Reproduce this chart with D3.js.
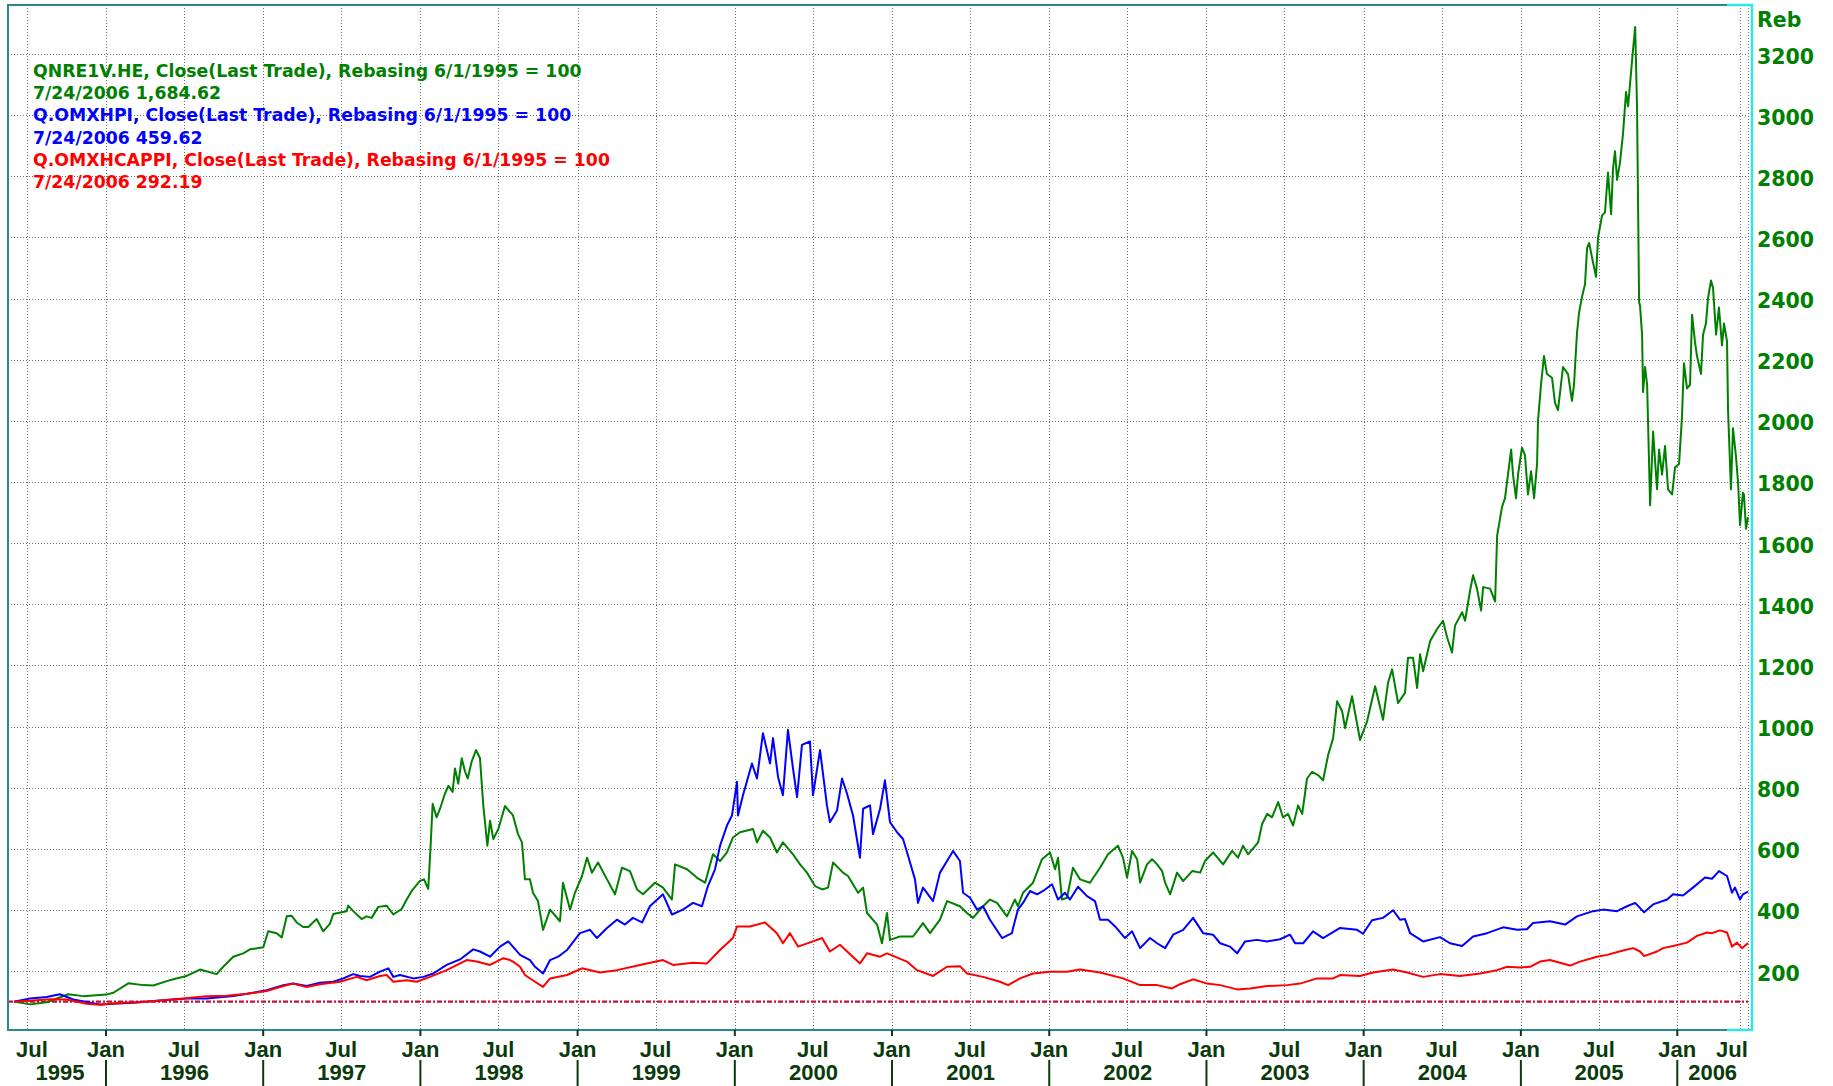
<!DOCTYPE html>
<html><head><meta charset="utf-8">
<script src="https://cdnjs.cloudflare.com/ajax/libs/d3/7.8.5/d3.min.js"></script>
<style>
html,body{margin:0;padding:0;background:#fff;}
svg{display:block;}
</style></head>
<body>
<svg id="chart" width="1833" height="1086"></svg>
<script>
// ---------- DATA (dates as decimal years, values rebased to 100 on 6/1/1995) ----------
const seriesNames = [
  "QNRE1V.HE, Close(Last Trade), Rebasing 6/1/1995 = 100",
  "Q.OMXHPI, Close(Last Trade), Rebasing 6/1/1995 = 100",
  "Q.OMXHCAPPI, Close(Last Trade), Rebasing 6/1/1995 = 100"
];
const lastLabels = ["7/24/2006 1,684.62", "7/24/2006 459.62", "7/24/2006 292.19"];
const seriesColors = ["#008000", "#0000ff", "#ff0000"];

const qnre1v = [
[1995.415,100],[1995.517,91],[1995.623,98],[1995.760,124],[1995.856,118],[1996.000,123],[1996.047,129],
[1996.142,160],[1996.237,154],[1996.301,153],[1996.386,167],[1996.428,173],[1996.513,184],[1996.598,205],
[1996.704,190],[1996.746,214],[1996.810,247],[1996.873,258],[1996.916,271],[1997.001,278],[1997.032,330],
[1997.086,324],[1997.118,310],[1997.150,379],[1997.181,381],[1997.213,359],[1997.255,344],[1997.287,344],
[1997.340,370],[1997.382,330],[1997.425,355],[1997.446,387],[1997.531,396],[1997.541,414],[1997.573,396],
[1997.626,370],[1997.658,379],[1997.690,374],[1997.732,410],[1997.785,414],[1997.828,385],[1997.881,403],
[1997.913,434],[1997.945,462],[1997.997,495],[1998.023,500],[1998.050,469],[1998.065,610],[1998.078,747],
[1998.103,703],[1998.125,731],[1998.156,780],[1998.178,806],[1998.205,786],[1998.220,863],[1998.241,813],
[1998.263,896],[1998.284,852],[1998.301,830],[1998.326,885],[1998.354,923],[1998.379,896],[1998.400,742],
[1998.426,610],[1998.443,692],[1998.464,632],[1998.496,665],[1998.538,740],[1998.589,709],[1998.621,648],
[1998.646,621],[1998.665,500],[1998.697,500],[1998.716,456],[1998.748,429],[1998.780,335],[1998.825,401],
[1998.888,363],[1998.907,489],[1998.952,401],[1998.983,456],[1999.028,511],[1999.060,571],[1999.091,522],
[1999.130,555],[1999.187,500],[1999.238,451],[1999.282,538],[1999.333,527],[1999.378,467],[1999.416,451],
[1999.492,489],[1999.543,473],[1999.600,434],[1999.620,549],[1999.696,533],[1999.760,505],[1999.811,489],
[1999.861,582],[1999.906,560],[1999.950,588],[1999.988,637],[2000.033,654],[2000.116,665],[2000.141,621],
[2000.179,659],[2000.224,637],[2000.268,588],[2000.306,621],[2000.370,582],[2000.415,549],[2000.459,522],
[2000.510,478],[2000.555,467],[2000.593,473],[2000.625,555],[2000.688,522],[2000.720,511],[2000.784,456],
[2000.816,473],[2000.841,390],[2000.905,352],[2000.936,291],[2000.968,390],[2000.987,302],[2001.051,313],
[2001.134,313],[2001.197,357],[2001.242,324],[2001.305,368],[2001.350,429],[2001.432,412],[2001.477,390],
[2001.515,374],[2001.579,412],[2001.623,434],[2001.668,423],[2001.731,379],[2001.782,434],[2001.801,412],
[2001.833,456],[2001.897,489],[2001.954,566],[2002.005,588],[2002.037,533],[2002.056,571],[2002.081,434],
[2002.113,440],[2002.151,538],[2002.196,500],[2002.259,489],[2002.323,538],[2002.374,582],[2002.437,610],
[2002.469,571],[2002.495,506],[2002.527,593],[2002.559,566],[2002.578,489],[2002.622,549],[2002.654,566],
[2002.686,549],[2002.718,527],[2002.737,489],[2002.769,451],[2002.813,522],[2002.852,494],[2002.909,527],
[2002.960,522],[2002.991,560],[2003.042,588],[2003.106,549],[2003.163,593],[2003.201,571],[2003.233,610],
[2003.265,582],[2003.329,621],[2003.354,681],[2003.386,714],[2003.417,703],[2003.456,753],[2003.487,703],
[2003.519,714],[2003.551,676],[2003.583,742],[2003.609,714],[2003.640,830],[2003.672,852],[2003.710,841],
[2003.742,824],[2003.774,907],[2003.806,962],[2003.831,1083],[2003.863,1050],[2003.882,995],[2003.926,1099],
[2003.977,956],[2004.022,1017],[2004.073,1132],[2004.123,1022],[2004.155,1143],[2004.181,1187],[2004.219,1077],
[2004.263,1110],[2004.282,1225],[2004.314,1225],[2004.340,1126],[2004.359,1236],[2004.378,1181],[2004.423,1280],
[2004.467,1319],[2004.505,1346],[2004.531,1291],[2004.562,1242],[2004.581,1330],[2004.626,1374],[2004.645,1346],
[2004.677,1445],[2004.696,1495],[2004.721,1451],[2004.747,1379],[2004.760,1456],[2004.804,1451],[2004.836,1409],
[2004.849,1624],[2004.880,1718],[2004.899,1747],[2004.938,1906],[2004.950,1824],[2004.969,1747],[2004.982,1824],
[2005.007,1912],[2005.026,1888],[2005.045,1759],[2005.065,1835],[2005.084,1747],[2005.103,1859],[2005.109,2000],
[2005.128,2118],[2005.147,2212],[2005.166,2153],[2005.198,2141],[2005.217,2059],[2005.236,2035],[2005.268,2176],
[2005.300,2153],[2005.325,2065],[2005.338,2118],[2005.357,2288],[2005.370,2353],[2005.389,2406],[2005.408,2447],
[2005.421,2565],[2005.434,2582],[2005.459,2518],[2005.478,2471],[2005.491,2600],[2005.516,2671],[2005.535,2682],
[2005.554,2812],[2005.574,2676],[2005.586,2824],[2005.599,2882],[2005.612,2788],[2005.631,2847],[2005.650,2941],
[2005.669,3076],[2005.682,3029],[2005.701,3141],[2005.714,3218],[2005.727,3288],[2005.739,3024],[2005.746,2682],
[2005.752,2388],[2005.758,2376],[2005.771,2282],[2005.777,2094],[2005.790,2176],[2005.803,2118],[2005.822,1724],
[2005.841,1965],[2005.866,1776],[2005.879,1906],[2005.898,1824],[2005.917,1918],[2005.936,1776],[2005.962,1759],
[2005.982,1847],[2006.014,1859],[2006.037,2012],[2006.053,2188],[2006.077,2106],[2006.101,2118],[2006.117,2347],
[2006.140,2259],[2006.156,2212],[2006.188,2153],[2006.204,2282],[2006.227,2318],[2006.243,2400],[2006.267,2459],
[2006.283,2435],[2006.307,2282],[2006.330,2371],[2006.354,2247],[2006.370,2318],[2006.394,2259],[2006.402,2035],
[2006.425,1776],[2006.441,1976],[2006.465,1882],[2006.481,1800],[2006.497,1659],[2006.520,1765],[2006.528,1759],
[2006.544,1647],[2006.560,1684.62]
];

const omxhpi = [
[1995.415,100],[1995.517,110],[1995.623,115],[1995.707,124],[1995.792,107],[1995.877,99],[1995.962,91],
[1996.047,93],[1996.174,96],[1996.344,104],[1996.513,110],[1996.640,110],[1996.810,118],[1996.937,129],
[1997.022,137],[1997.128,154],[1997.191,159],[1997.276,151],[1997.361,162],[1997.446,165],[1997.510,176],
[1997.573,190],[1997.616,184],[1997.679,181],[1997.743,198],[1997.796,209],[1997.828,181],[1997.870,187],
[1997.955,176],[1998.019,181],[1998.082,192],[1998.167,220],[1998.252,238],[1998.336,271],[1998.379,264],
[1998.443,247],[1998.506,280],[1998.559,297],[1998.634,253],[1998.697,236],[1998.729,214],[1998.780,192],
[1998.825,236],[1998.876,247],[1998.933,269],[1999.015,324],[1999.079,335],[1999.123,308],[1999.187,341],
[1999.250,368],[1999.301,352],[1999.352,374],[1999.410,359],[1999.460,412],[1999.543,451],[1999.600,385],
[1999.670,401],[1999.734,423],[1999.791,412],[1999.829,478],[1999.874,533],[1999.906,610],[1999.950,676],
[1999.982,709],[2000.014,819],[2000.020,709],[2000.052,775],[2000.109,879],[2000.141,830],[2000.179,978],
[2000.224,879],[2000.243,962],[2000.275,835],[2000.306,775],[2000.338,989],[2000.370,863],[2000.396,769],
[2000.427,940],[2000.478,951],[2000.497,775],[2000.542,923],[2000.586,742],[2000.605,687],[2000.650,725],
[2000.682,830],[2000.714,780],[2000.752,709],[2000.796,571],[2000.816,731],[2000.860,742],[2000.879,648],
[2000.924,731],[2000.955,824],[2000.987,687],[2001.032,654],[2001.070,632],[2001.102,577],[2001.146,500],
[2001.165,423],[2001.197,473],[2001.261,429],[2001.305,522],[2001.350,560],[2001.388,593],[2001.432,560],
[2001.452,456],[2001.496,440],[2001.541,401],[2001.579,412],[2001.623,368],[2001.700,308],[2001.763,324],
[2001.770,341],[2001.801,401],[2001.833,423],[2001.878,462],[2001.923,451],[2001.961,462],[2002.018,484],
[2002.056,434],[2002.100,456],[2002.132,434],[2002.183,476],[2002.240,445],[2002.291,429],[2002.323,368],
[2002.374,368],[2002.419,346],[2002.482,308],[2002.527,330],[2002.578,275],[2002.641,308],[2002.686,291],
[2002.737,275],[2002.788,319],[2002.852,335],[2002.915,374],[2002.979,324],[2003.042,319],[2003.087,291],
[2003.150,280],[2003.195,258],[2003.246,297],[2003.322,302],[2003.386,297],[2003.468,304],[2003.532,319],
[2003.564,291],[2003.615,291],[2003.678,330],[2003.742,308],[2003.850,341],[2003.958,335],[2003.996,322],
[2004.053,366],[2004.123,374],[2004.187,399],[2004.231,368],[2004.263,370],[2004.295,324],[2004.378,297],
[2004.486,311],[2004.549,291],[2004.626,282],[2004.696,313],[2004.785,324],[2004.887,343],[2004.976,335],
[2005.039,337],[2005.077,357],[2005.185,363],[2005.281,352],[2005.357,379],[2005.459,396],[2005.523,401],
[2005.612,396],[2005.675,412],[2005.727,423],[2005.784,392],[2005.841,418],[2005.930,434],[2005.968,451],
[2006.045,447],[2006.124,473],[2006.220,506],[2006.275,502],[2006.330,527],[2006.394,511],[2006.433,456],
[2006.457,473],[2006.497,434],[2006.520,451],[2006.560,459.62]
];

const omxhcappi = [
[1995.415,100],[1995.538,104],[1995.644,108],[1995.750,107],[1995.877,93],[1995.962,90],[1996.089,96],
[1996.216,98],[1996.344,104],[1996.492,110],[1996.640,118],[1996.768,119],[1996.895,126],[1997.022,135],
[1997.128,151],[1997.191,159],[1997.276,148],[1997.361,157],[1997.488,165],[1997.595,181],[1997.658,170],
[1997.743,184],[1997.785,187],[1997.828,165],[1997.913,170],[1997.976,165],[1998.061,181],[1998.167,203],
[1998.294,236],[1998.358,231],[1998.443,220],[1998.528,242],[1998.570,236],[1998.589,231],[1998.634,214],
[1998.665,187],[1998.729,165],[1998.780,148],[1998.825,176],[1998.933,187],[1999.028,209],[1999.142,195],
[1999.250,203],[1999.397,220],[1999.543,236],[1999.607,220],[1999.734,227],[1999.823,225],[1999.906,269],
[1999.988,308],[2000.014,346],[2000.096,346],[2000.192,359],[2000.268,324],[2000.306,291],[2000.351,324],
[2000.402,280],[2000.497,297],[2000.555,308],[2000.605,264],[2000.669,286],[2000.796,225],[2000.841,258],
[2000.924,247],[2000.968,258],[2001.095,231],[2001.159,203],[2001.261,184],[2001.350,214],[2001.432,216],
[2001.477,192],[2001.579,181],[2001.687,165],[2001.738,154],[2001.814,176],[2001.897,192],[2002.005,198],
[2002.113,198],[2002.196,205],[2002.323,195],[2002.469,176],[2002.578,154],[2002.686,154],[2002.781,143],
[2002.832,157],[2002.915,173],[2003.004,159],[2003.087,154],[2003.195,140],[2003.278,143],[2003.386,151],
[2003.513,154],[2003.595,159],[2003.704,176],[2003.806,176],[2003.850,187],[2003.977,184],[2004.060,195],
[2004.187,205],[2004.276,195],[2004.378,181],[2004.486,190],[2004.613,184],[2004.741,192],[2004.849,203],
[2004.912,214],[2004.995,212],[2005.059,214],[2005.122,231],[2005.185,236],[2005.249,227],[2005.313,218],
[2005.376,231],[2005.484,247],[2005.548,253],[2005.650,267],[2005.714,275],[2005.758,264],[2005.784,249],
[2005.866,264],[2005.904,275],[2005.968,282],[2006.077,293],[2006.156,315],[2006.235,326],[2006.275,324],
[2006.338,333],[2006.394,326],[2006.433,280],[2006.473,293],[2006.513,275],[2006.560,292.19]
];

const yTickValues = [200,400,600,800,1000,1200,1400,1600,1800,2000,2200,2400,2600,2800,3000,3200];
const yAxisTitle = "Reb";
const baseValue = 100;
const years = [1995,1996,1997,1998,1999,2000,2001,2002,2003,2004,2005,2006];
const monthLabels = ["Jan","Jul"];
const startDate = 1995.415, breakDate = 2005.974, endDate = 2006.560; // 6/1/1995 ... 7/24/2006

// ---------- LAYOUT ----------
const svg = d3.select("#chart");
const L = 8, T = 5, R = 1752, B = 1030;

const x = d3.scaleLinear().domain([startDate, breakDate, endDate]).range([14, 1674, 1748]);
const y = d3.scaleLinear().domain([0, 3200]).range([1032.2, 54]);

const grid = svg.append("g").attr("stroke","#6e6e6e").attr("stroke-width",1).attr("stroke-dasharray","1,2");
// horizontal grid
grid.selectAll("line.h").data(yTickValues).join("line")
  .attr("x1", L).attr("x2", x(endDate)).attr("y1", d=>Math.round(y(d))+0.5).attr("y2", d=>Math.round(y(d))+0.5);
// vertical grid at Jan / Jul
const gridDates = [];
years.forEach(yr => { [yr, yr+0.496].forEach(t => { if (t>=startDate && t<=endDate) gridDates.push(t); }); });
gridDates.push(endDate);
grid.selectAll("line.v").data(gridDates).join("line")
  .attr("x1", d=>Math.round(x(d))+0.5).attr("x2", d=>Math.round(x(d))+0.5).attr("y1", T).attr("y2", B);

// baseline 100
svg.append("line").attr("x1", L).attr("x2", x(endDate)).attr("y1", y(baseValue)).attr("y2", y(baseValue))
  .attr("stroke","#c4103a").attr("stroke-width",2.4).attr("stroke-dasharray","5,2,2,2");

// series lines
const line = d3.line().x(d=>x(d[0])).y(d=>y(d[1]));
[qnre1v, omxhpi, omxhcappi].forEach((s,i) => {
  svg.append("path").datum(s).attr("d", line).attr("fill","none")
    .attr("stroke", seriesColors[i]).attr("stroke-width",2).attr("stroke-linejoin","round");
});

// frame
svg.append("path").attr("d", `M${R-25},${T} H${L} V${B} H${R-25}`).attr("fill","none")
  .attr("stroke","#2a8a8a").attr("stroke-width",2);
svg.append("path").attr("d", `M${R-25},${T} H${R} V${B} H${R-25}`).attr("fill","none")
  .attr("stroke","#33e6e6").attr("stroke-width",2.5);

// legend
const leg = svg.append("g").attr("font-family","'DejaVu Sans', Verdana, sans-serif").attr("font-weight","bold").attr("font-size","17.3px");
seriesNames.forEach((n,i) => {
  leg.append("text").attr("x",33).attr("y",77 + i*44.4).attr("fill",seriesColors[i]).text(n);
  leg.append("text").attr("x",33).attr("y",99.2 + i*44.4).attr("fill",seriesColors[i]).text(lastLabels[i]);
});

// right axis labels
const ya = svg.append("g").attr("font-family","'DejaVu Sans', Verdana, sans-serif").attr("font-weight","bold")
  .attr("font-size","20.5px").attr("fill","#008000");
ya.selectAll("text").data(yTickValues).join("text")
  .attr("x", R+5).attr("y", d=>y(d)+9.5).text(d=>d);
ya.append("text").attr("x", R+5).attr("y", 27).text(yAxisTitle);

// x axis
const xa = svg.append("g").attr("font-family","'Liberation Sans', Arial, sans-serif").attr("font-weight","bold")
  .attr("font-size","22px").attr("fill","#0a3a0a");
const xr = x(endDate);
gridDates.filter(t=>t!==endDate).forEach(t => {
  const isJan = Math.abs(t-Math.round(t))<0.01;
  const lbl = isJan ? monthLabels[0] : monthLabels[1];
  let cx = x(t);
  const halfW = 16;
  if (cx + halfW > xr) cx = xr - halfW;
  if (cx - halfW < L + 8) cx = L + 8 + halfW;
  xa.append("text").attr("x", cx).attr("y", 1057).attr("text-anchor","middle").text(lbl);
  if (isJan) {
    svg.append("line").attr("x1",x(t)).attr("x2",x(t)).attr("y1",B).attr("y2",B+6).attr("stroke","#0a3a0a").attr("stroke-width",2);
    svg.append("line").attr("x1",x(t)).attr("x2",x(t)).attr("y1",1060).attr("y2",1086).attr("stroke","#0a3a0a").attr("stroke-width",2);
  }
});
years.forEach(yr => {
  const a = Math.max(yr, startDate), b = Math.min(yr+1, endDate);
  const cx = (x(a)+x(b))/2;
  xa.append("text").attr("x", cx).attr("y", 1080).attr("text-anchor","middle").text(yr);
});
</script>
</body></html>
